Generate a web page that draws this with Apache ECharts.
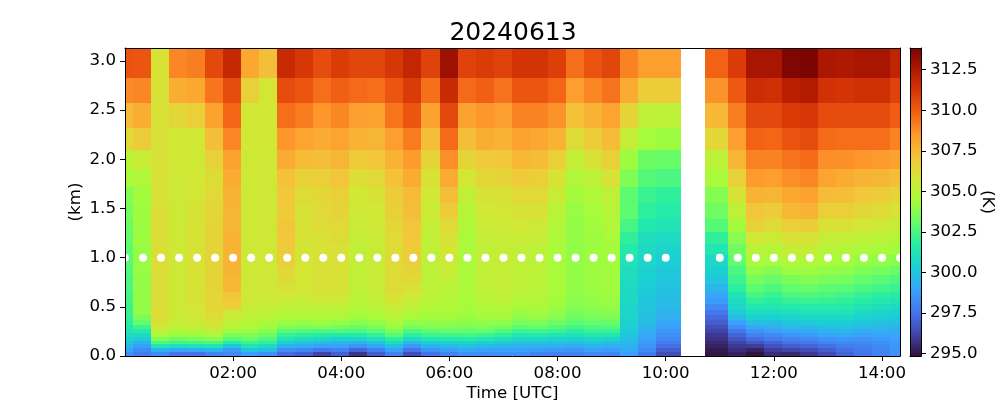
<!DOCTYPE html>
<html>
<head>
<meta charset="utf-8">
<style>html,body{margin:0;padding:0;background:#fff}#c{width:1000px;height:400px}</style>
<script src="https://cdn.jsdelivr.net/npm/echarts@6/dist/echarts.min.js"></script>
</head>
<body>
<div id="c"></div>
<script>
const chartTitle = '20240613';
const xTicks = [120, 240, 360, 480, 600, 720, 840];
const yTicks = [0, 0.5, 1, 1.5, 2, 2.5, 3];
const cbarTicks = [295, 297.5, 300, 302.5, 305, 307.5, 310, 312.5];
const xMax = 860, yMax = 3.132, cbarMin = 294.85, cbarMax = 313.84;
// sounding times (minutes since 00:00) shown as white markers
const markerTimes = [0,20,40,60,80,100,120,140,160,180,200,220,240,260,280,300,320,340,360,380,400,420,440,460,480,500,520,540,560,580,600,660,680,700,720,740,760,780,800,820,840,860];
const markerHeight = 1.0;
// mesh column edges (minutes)
const colStart = [0,9,29,49,69,89,109,129,149,169,189,209,229,249,269,289,309,329,349,369,389,409,429,449,469,489,509,529,549,569,589,644,669,689,709,729,749,769,789,809,829,849];
const colEnd   = [9,29,49,69,89,109,129,149,169,189,209,229,249,269,289,309,329,349,369,389,409,429,449,469,489,509,529,549,569,589,617,669,689,709,729,749,769,789,809,829,849,860];
// mesh row edges (km), top to bottom
const rowEdges = [3.132,2.83,2.57,2.322,2.095,1.902,1.722,1.556,1.393,1.261,1.139,1.027,0.915,0.824,0.737,0.651,0.59,0.529,0.468,0.417,0.366,0.315,0.275,0.234,0.193,0.153,0.117,0.081,0.041,0];
// potential temperature (K): one list per column, rows top to bottom
const temps = [
[310.3,308.8,307.4,306.3,305,304.5,303.7,303.4,303.2,303, 302.9,302.8,302.7,302.6,302.5,302.4,302.3,302.2,302.1,302, 301.8,301.5,301.2,300.9,300.5,300.1,299.6,299,298.4],
[310.2,308.9,307.8,306.8,305.4,304.7,304.3,304.2,304.2,304.2, 304.1,304.1,304.1,304,304,304,304,304,304,303.5, 303,302.2,301.5,300.8,300.2,299.5,298.8,298.2,297.8],
[306,306,306,306,306,306,306,306.1,306.1,306.1, 306.1,306.1,306.1,306.1,306.1,306.1,306.1,306.1,306.1,306.1, 306,305.7,305,304.5,303.6,302.6,301.3,299.4,298.3],
[308.9,307.8,306.4,305.7,305.7,305.6,305.6,305.5,305.6,305.6, 305.6,305.6,305.6,305.6,305.6,305.6,305.6,305.6,305.5,305.5, 305.4,305.2,304.7,304.1,303.3,302.3,301,299,297.6],
[309.1,308,306.7,305.7,305.6,305.7,305.8,305.9,305.9,305.9, 305.9,305.9,305.9,305.9,305.9,305.9,305.9,305.8,305.7,305.6, 305.5,305.3,304.8,304.2,303.4,302.4,301.1,299.2,297.5],
[310.6,309.3,308.2,307.3,306.6,306.2,306.3,306.4,306.5,306.5, 306.5,306.5,306.5,306.5,306.5,306.4,306.4,306.4,306.3,306.2, 306,305.6,305.2,304.6,303.7,302.6,301.2,299.5,298],
[311.8,310.5,309.7,308.9,308.2,307.9,307.7,307.6,307.6,307.7, 307.7,307.7,307.6,307.5,307.5,307.1,306.9,306.7,305.5,305.4, 305.2,304.9,304.2,303.5,302.8,301.6,300,298.6,298.2],
[308,306.6,305.7,305.7,305.6,305.6,305.6,305.6,305.6,305.6, 305.6,305.6,305.6,305.6,305.6,305.6,305.6,305.4,305.2,305.1, 304.9,304.6,304.2,303.6,303,302.2,301.2,300,298.8],
[307.3,305.8,305.7,305.7,305.6,305.6,305.6,305.6,305.6,305.6, 305.6,305.6,305.6,305.6,305.6,305.6,305.5,305.3,305.1,304.9, 304.6,304.2,303.8,303.3,302.6,301.9,300.8,299.7,298.4],
[311.7,310.5,309.5,308.5,307.9,307.2,307,306.9,307.1,307, 306.8,306.6,306.4,306.2,306,305.7,305.4,305.1,304.9,304.6, 304.2,303.6,302.8,302,301.3,300.3,299.4,298.3,297.3],
[311.2,310.2,309.2,308.1,307.4,306.6,306.2,306,305.9,305.9, 305.8,305.8,305.8,305.8,305.8,305.6,305.3,305.1,304.9,304.6, 304.1,303.5,302.7,301.8,301,300,299.1,298.1,297],
[310.5,309.5,308.5,307.9,307.3,306.7,306.4,306.3,306.2,306, 306,306,306,306,306,305.8,305.5,305.2,304.9,304.6, 304.2,303.6,302.6,301.6,300.7,299.7,298.9,297.6,296.2],
[311,309.9,308.9,308.1,307.6,307.1,306.7,306.5,306.3,306.2, 306,306,306,306,306,305.8,305.5,305.2,304.9,304.6, 304.1,303.4,302.6,301.5,300.4,299.5,298.9,297.9,297],
[310.7,309.6,308.3,307.7,306.9,306.1,305.7,305.6,305.5,305.3, 305.2,305.2,305.2,305.2,305.2,305,304.9,304.7,304.5,304.2, 303.8,303.2,302.5,301.6,300.5,299.5,298.5,297.1,295.8],
[310.7,309.5,308.2,307.6,307,306.3,305.9,305.7,305.6,305.5, 305.4,305.4,305.4,305.4,305.4,305.3,305.2,305,304.7,304.4, 304,303.5,302.8,302,301,300,299,297.8,296.9],
[311.2,310.2,309.3,308.3,307.7,307.2,306.8,306.6,306.4,306.3, 306.2,306.2,306.2,306.2,306.2,306,305.8,305.5,305.2,304.9, 304.6,304.1,303.5,302.8,301.8,300.9,299.9,298.9,297.9],
[311.9,311,310.2,309.2,308.4,307.9,307.4,307.3,307.1,307, 306.9,306.7,306.5,306.3,306,305.7,305.4,305.1,304.8,304.4, 304,303.4,302.6,301.8,300.8,299.6,298.6,297.5,296.5],
[310.8,309.5,308.2,307.3,306.5,305.9,305.7,305.5,305.3,305.2, 305.1,305.1,305.1,305.1,305.1,305,304.9,304.7,304.5,304.3, 304,303.6,302.9,302.2,301.3,300.4,299.4,298.5,297.5],
[313,311.7,310.6,309.6,308.7,307.9,307.3,306.8,306.3,306, 305.8,305.6,305.4,305.2,305,304.9,304.8,304.7,304.5,304.3, 304,303.6,303,302.3,301.4,300.5,299.6,298.8,298],
[310.8,309.6,308.2,307.3,306.5,305.8,305.2,304.9,304.7,304.6, 304.6,304.6,304.6,304.6,304.6,304.6,304.5,304.4,304.3,304.1, 303.9,303.5,303,302.4,301.5,300.6,299.9,299.1,298.4],
[311,309.9,308.5,307.8,306.9,306.4,306,305.7,305.5,305.3, 305.2,305.2,305.2,305.2,305.2,305,304.9,304.7,304.5,304.3, 304,303.6,303,302.2,301.3,300.4,299.6,298.9,298.3],
[310.8,309.4,308.3,307.7,307,306.5,306,305.8,305.6,305.4, 305.3,305.3,305.3,305.3,305.3,305.1,305,304.8,304.6,304.3, 303.9,303.4,302.7,301.9,301,300.2,299.5,298.9,298.4],
[311.3,310.2,309,308.2,307.5,306.9,306.3,306,305.7,305.4, 305.2,305.2,305.2,305.2,305.2,304.9,304.7,304.5,304.2,303.9, 303.5,302.9,302.2,301.4,300.7,300,299.4,298.9,298.4],
[311.3,310.2,309,308,307.4,306.7,306.3,306,305.6,305.4, 305,305,305,305,305,304.9,304.8,304.6,304.3,304, 303.6,303,302.3,301.5,300.7,300,299.3,298.7,298],
[310.9,309.7,308.6,307.7,306.7,305.9,305.4,305,304.8,304.6, 304.5,304.5,304.5,304.5,304.5,304.4,304.3,304.2,304,303.7, 303.3,302.7,302.1,301.2,300.5,299.9,299.3,298.6,297.9],
[309.5,308.3,307.2,306.2,305.3,304.7,304.3,304.1,304,304, 304,304,304,304,304,303.9,303.8,303.7,303.5,303.2, 302.9,302.4,301.8,301.1,300.4,299.8,299.2,298.5,298],
[310.3,308.9,307.7,306.8,306,305.1,304.7,304.4,304.3,304.2, 304.2,304.2,304.2,304.2,304.2,304.1,304,303.9,303.7,303.4, 303,302.6,302.1,301.4,300.7,300.1,299.5,298.9,298.2],
[310.7,309.4,308.1,307.4,306.6,306,305.2,304.9,304.7,304.5, 304.3,304.3,304.3,304.3,304.3,304.2,304.1,304,303.8,303.5, 303.1,302.7,302.1,301.3,300.5,299.9,299.3,298.7,298.1],
[309,307.9,306.5,305.3,304.2,303.6,302.9,302.9,302.4,301.9, 301.5,301.2,301,300.9,300.8,300.7,300.7,300.6,300.6,300.5, 300.4,300.3,300.2,300,299.8,299.6,299.4,299.2,298.9],
[308.3,306.8,305.2,304.4,303.2,302.7,302.1,301.8,301.4,301, 300.8,300.6,300.4,300.3,300.2,300.1,300,300,299.9,299.8, 299.7,299.5,299.3,299.1,298.9,298.7,298.5,298.2,297.7],
[308.3,306.8,305.1,304.2,303.1,302.5,301.9,301.6,301.2,300.8, 300.5,300.3,300.1,300,299.9,299.8,299.7,299.6,299.5,299.3, 299.1,298.9,298.6,298.4,298.1,297.8,297.4,296.9,296.5],
[309.8,308.6,307.5,306.4,305.1,304.5,303.7,303.3,302.7,301.9, 301.3,300.7,300.4,300,299.5,299,298.7,298.2,297.6,297.2, 296.9,296.5,296.2,295.9,295.7,295.5,295.3,295.1,295],
[311,310.1,309.1,308.3,307.6,306.6,305.9,305.1,304.3,303.8, 303.3,303,302.5,302.2,301.8,301.2,300.9,300.6,300.2,299.6, 298.9,298.3,297.6,297.1,296.7,296.2,295.9,295.6,295.3],
[312.7,311.6,310.6,309.8,309,308.4,307.7,307.1,306.6,305.7, 305,304.6,304,303.4,302.9,302.4,301.9,301.4,300.9,300.4, 299.8,299.2,298.5,297.9,297.3,296.7,296,295.3,294.9],
[312.7,311.5,310.6,309.7,309,308.3,307.6,306.8,306.2,305.5, 304.9,304.5,303.7,303.1,302.6,302.1,301.7,301.3,300.8,300.3, 299.8,299.3,298.8,298.2,297.7,297.1,296.6,296,295.6],
[313.7,312.2,311.1,310.3,309.4,308.7,308,307.5,306.7,306, 305.4,304.8,304.2,303.5,303,302.5,302,301.5,301,300.5, 300.1,299.6,299.1,298.6,298,297.5,296.9,296.2,295.5],
[313.8,312.4,311.2,310.5,309.6,308.9,308.2,307.7,306.8,306, 305.4,304.8,304.2,303.7,303.1,302.6,302.1,301.6,301.1,300.7, 300.2,299.7,299.2,298.7,298.2,297.6,297.1,296.5,295.9],
[312.6,311.4,310.5,309.6,308.7,308.1,307.4,306.7,306,305.4, 304.9,304.5,304,303.5,302.9,302.5,302,301.6,301.1,300.7, 300.3,299.9,299.5,299,298.5,298,297.4,296.9,296.4],
[312.5,311.3,310.5,309.5,308.7,307.9,307.3,306.7,306,305.3, 304.8,304.4,303.9,303.4,302.8,302.3,301.9,301.5,301.1,300.7, 300.3,299.9,299.5,299.1,298.6,298.2,297.8,297.4,297.1],
[312.7,311.5,310.5,309.5,308.5,307.7,307,306.4,305.7,305.1, 304.6,304.1,303.6,303,302.5,302,301.6,301.2,300.8,300.4, 300.1,299.7,299.3,298.9,298.5,298.2,297.9,297.7,297.6],
[312.7,311.5,310.5,309.5,308.4,307.6,306.8,306.2,305.6,305, 304.5,304,303.4,302.8,302.3,301.8,301.4,301,300.6,300.2, 299.9,299.6,299.3,299,298.7,298.4,298.2,298.1,298],
[312,310.8,310,309,308.2,307.3,306.5,305.9,305.3,304.8, 304.3,303.8,303.2,302.6,302.1,301.6,301.2,300.8,300.4,300.1, 299.8,299.5,299.2,299,298.8,298.7,298.6,298.5,298.5]
];

// turbo colormap, evenly spaced anchors
const turboStops = ['#30123b','#4145ab','#4675ed','#39a2fc','#1bcfd4','#24eca6','#61fc6c','#a4fc3b','#d1e834','#f3c63a','#fe9b2d','#f36315','#d93806','#b11901','#7a0402'];

const cells = [];
temps.forEach((col, i) => col.forEach((v, j) => {
  cells.push([colStart[i], colEnd[i], rowEdges[j + 1], rowEdges[j], v]);
}));
const hhmm = m => String(Math.floor(m / 60)).padStart(2, '0') + ':' + String(m % 60).padStart(2, '0');
const font = 'DejaVu Sans';
const labelStyle = { color: '#000', fontFamily: font, fontSize: 16.67 };
const blackLine = { show: true, onZero: false, lineStyle: { color: '#000', width: 1 } };
const tickStyle = { show: true, length: 5, lineStyle: { color: '#000', width: 1 } };
const frameAxis = extra => Object.assign({
  type: 'value', axisLine: blackLine, axisTick: { show: false },
  axisLabel: { show: false }, splitLine: { show: false }, z: 10, nameMoveOverlap: false
}, extra);

const chart = echarts.init(document.getElementById('c'), null, { renderer: 'canvas' });
chart.setOption({
  animation: false,
  backgroundColor: '#fff',
  title: {
    text: chartTitle, left: 508, top: 16, textAlign: 'center',
    textStyle: { color: '#000', fontFamily: font, fontSize: 25, fontWeight: 'normal' }
  },
  grid: [
    { left: 125, top: 48, width: 775, height: 308, outerBoundsMode: 'none' },
    { left: 910, top: 48, width: 11, height: 308, outerBoundsMode: 'none' }
  ],
  xAxis: [
    frameAxis({ gridIndex: 0, min: 0, max: xMax, position: 'bottom',
      name: 'Time [UTC]', nameLocation: 'middle', nameGap: 29, nameTextStyle: labelStyle,
      axisTick: Object.assign({ customValues: xTicks }, tickStyle),
      axisLabel: Object.assign({ show: true, margin: 9, customValues: xTicks, formatter: v => hhmm(v) }, labelStyle) }),
    frameAxis({ gridIndex: 0, min: 0, max: xMax, position: 'top' }),
    frameAxis({ gridIndex: 1, min: 0, max: 1, position: 'bottom' }),
    frameAxis({ gridIndex: 1, min: 0, max: 1, position: 'top' })
  ],
  yAxis: [
    frameAxis({ gridIndex: 0, min: 0, max: yMax, position: 'left',
      name: '(km)', nameLocation: 'middle', nameGap: 41, nameRotate: 90, nameTextStyle: labelStyle,
      axisTick: Object.assign({ customValues: yTicks }, tickStyle),
      axisLabel: Object.assign({ show: true, margin: 9, customValues: yTicks, formatter: v => v.toFixed(1) }, labelStyle) }),
    frameAxis({ gridIndex: 0, min: 0, max: yMax, position: 'right' }),
    frameAxis({ gridIndex: 1, min: cbarMin, max: cbarMax, position: 'right',
      name: '(K)', nameLocation: 'middle', nameGap: 58, nameRotate: -90, nameTextStyle: labelStyle,
      axisTick: Object.assign({ customValues: cbarTicks }, tickStyle),
      axisLabel: Object.assign({ show: true, margin: 9, customValues: cbarTicks, formatter: v => v.toFixed(1) }, labelStyle) }),
    frameAxis({ gridIndex: 1, min: cbarMin, max: cbarMax, position: 'left' })
  ],
  visualMap: {
    show: false, type: 'continuous', seriesIndex: 0, dimension: 4,
    min: cbarMin, max: cbarMax, inRange: { color: turboStops }
  },
  series: [
    {
      type: 'custom', xAxisIndex: 0, yAxisIndex: 0, silent: true, clip: true,
      encode: { x: [0, 1], y: [2, 3] },
      progressive: 0,
      data: cells,
      renderItem: (params, api) => {
        const a = api.coord([api.value(0), api.value(3)]);
        const b = api.coord([api.value(1), api.value(2)]);
        const x = Math.round(a[0]), y = Math.round(a[1]);
        return { type: 'rect',
          shape: { x: x, y: y, width: Math.round(b[0]) - x, height: Math.round(b[1]) - y },
          style: { fill: api.visual('color') } };
      }
    },
    {
      type: 'scatter', xAxisIndex: 0, yAxisIndex: 0, silent: true, clip: true, z: 5,
      symbol: 'circle', symbolSize: 8,
      itemStyle: { color: '#fff', opacity: 1 },
      data: markerTimes.map(t => [t, markerHeight])
    },
    {
      type: 'custom', xAxisIndex: 2, yAxisIndex: 2, silent: true,
      encode: { y: [0, 1] },
      data: [[cbarMin, cbarMax]],
      renderItem: (params, api) => {
        const a = api.coord([0, api.value(1)]);
        const b = api.coord([1, api.value(0)]);
        return { type: 'rect',
          shape: { x: a[0], y: a[1], width: b[0] - a[0], height: b[1] - a[1] },
          style: { fill: new echarts.graphic.LinearGradient(0, 1, 0, 0,
            turboStops.map((c, i) => ({ offset: i / (turboStops.length - 1), color: c }))) } };
      }
    }
  ]
});
</script>
</body>
</html>
